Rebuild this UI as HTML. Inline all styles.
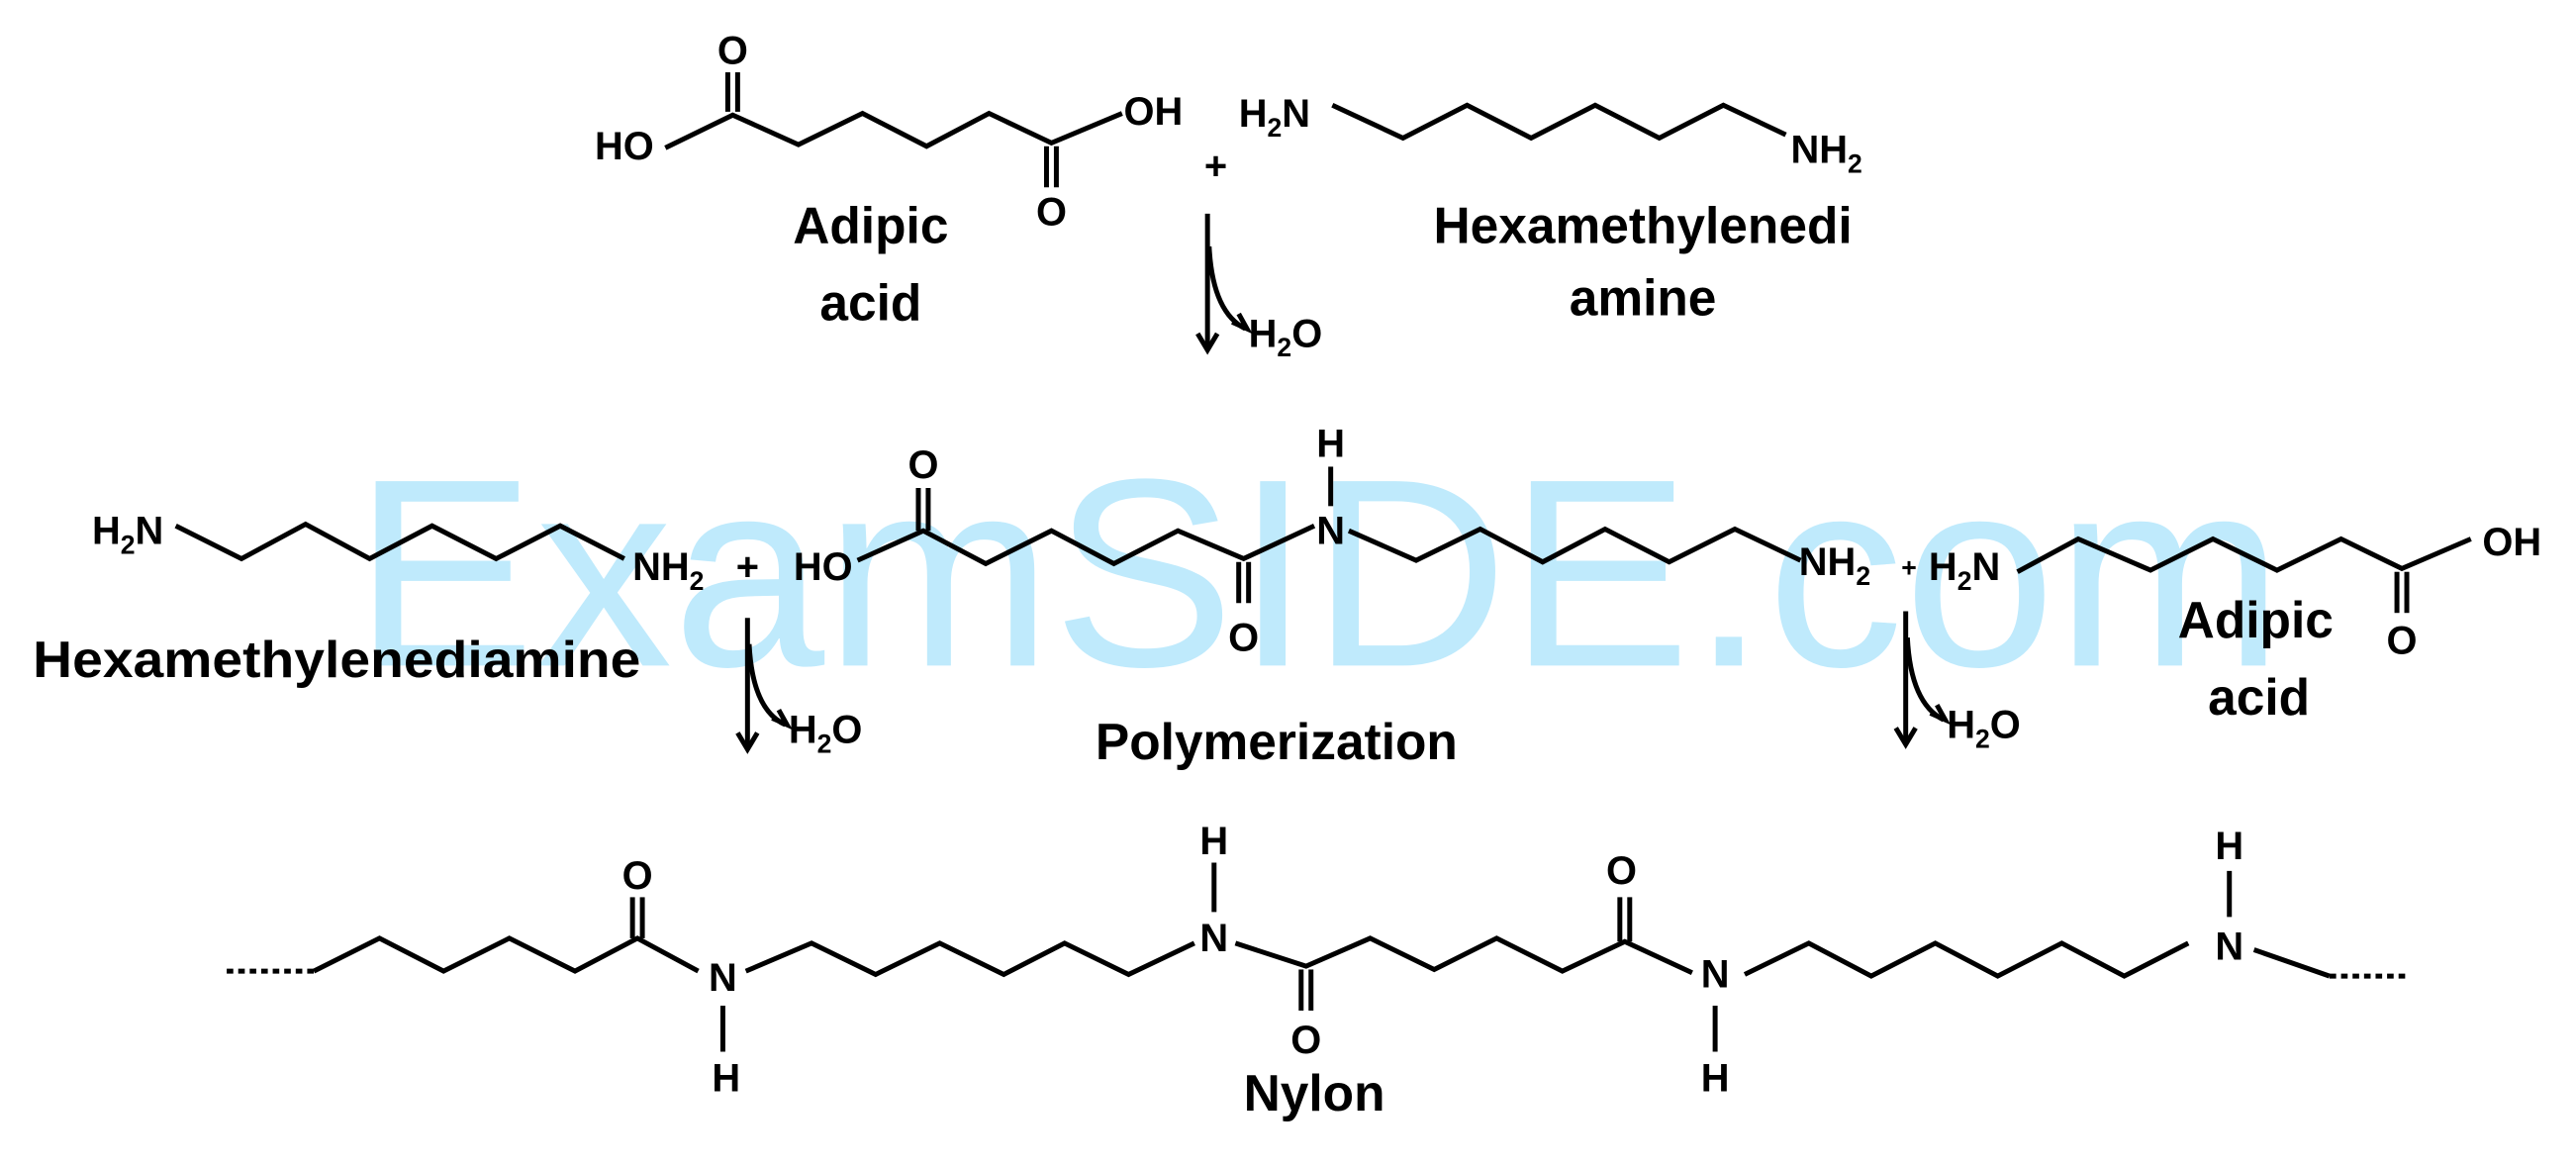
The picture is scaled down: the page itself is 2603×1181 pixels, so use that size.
<!DOCTYPE html>
<html><head><meta charset="utf-8"><style>
html,body{margin:0;padding:0;background:#fff;}
svg{display:block}
text{font-family:"Liberation Sans",sans-serif;font-weight:bold;fill:#000}
.a{font-size:24px}
.l{font-size:31px}
.s{font-size:16px}
</style></head><body>
<svg width="2603" height="1181" viewBox="0 0 1568 711.4" xmlns="http://www.w3.org/2000/svg">
<text x="215" y="405" font-size="163" style="fill:#bfeafc;font-weight:normal" textLength="1175" lengthAdjust="spacingAndGlyphs">ExamSIDE.com</text>
<g fill="none" stroke="#000" stroke-width="3" stroke-linejoin="miter">
<!-- top adipic acid -->
<polyline points="405,90 446,70 486,88 525,69 564,89 602,69 640,87 683,69"/>
<line x1="443" y1="68" x2="443" y2="44"/><line x1="449" y1="68" x2="449" y2="44"/>
<line x1="637" y1="89" x2="637" y2="114"/><line x1="643" y1="89" x2="643" y2="114"/>
<!-- top diamine -->
<polyline points="811,64 854,84 893,64 932,84 971,64 1010,84 1049,64 1087,82"/>
<!-- top arrow -->
<line x1="735" y1="130" x2="735" y2="212"/><polyline points="729,203 735,213 741,203"/>
<path d="M736,150 Q738,190 758,200"/><polyline points="750,196 759,200 754,191"/>
<!-- middle left diamine -->
<polyline points="107,320 147,340 186,319 225,340 263,320 302,340 341,320 380,340"/>
<!-- middle adipic-amide -->
<polyline points="522,341 562,323 600,343 640,323 678,343 717,323 757,340 800,320"/>
<line x1="559" y1="323" x2="559" y2="297"/><line x1="565" y1="323" x2="565" y2="297"/>
<line x1="754" y1="342" x2="754" y2="367"/><line x1="760" y1="342" x2="760" y2="367"/>
<line x1="810" y1="284" x2="810" y2="308"/>
<polyline points="821,323 862,341 901,322 939,342 977,322 1016,342 1056,322 1096,341"/>
<!-- middle right adipic -->
<polyline points="1228,348 1265,328 1309,347 1347,328 1386,347 1425,328 1462,346 1504,328"/>
<line x1="1459" y1="348" x2="1459" y2="373"/><line x1="1465" y1="348" x2="1465" y2="373"/>
<!-- middle arrows -->
<line x1="455" y1="376" x2="455" y2="455"/><polyline points="449,446 455,456 461,446"/>
<path d="M456,392 Q458,432 478,441"/><polyline points="470,437 479,441 474,432"/>
<line x1="1160" y1="372" x2="1160" y2="452"/><polyline points="1154,443 1160,453 1166,443"/>
<path d="M1161,388 Q1163,428 1183,438"/><polyline points="1175,434 1184,438 1179,429"/>
<!-- bottom nylon -->
<line x1="138" y1="591" x2="191" y2="591" stroke-dasharray="4,3"/>
<polyline points="191,591 231,571 270,591 310,571 350,591 388,571 425,591"/>
<line x1="385" y1="571" x2="385" y2="546"/><line x1="391" y1="571" x2="391" y2="546"/>
<line x1="440" y1="612" x2="440" y2="640"/>
<polyline points="454,591 494,574 533,593 572,574 611,593 648,574 687,593 727,574"/>
<line x1="739" y1="525" x2="739" y2="555"/>
<polyline points="752,574 795,588 834,571 873,590 911,571 951,591 989,573 1030,592"/>
<line x1="792" y1="590" x2="792" y2="615"/><line x1="798" y1="590" x2="798" y2="615"/>
<line x1="986" y1="573" x2="986" y2="546"/><line x1="992" y1="573" x2="992" y2="546"/>
<line x1="1044" y1="612" x2="1044" y2="640"/>
<polyline points="1062,593 1101,574 1139,594 1178,574 1216,594 1255,574 1293,594 1332,574"/>
<line x1="1357" y1="530" x2="1357" y2="558"/>
<line x1="1372" y1="578" x2="1418" y2="594"/>
<line x1="1418" y1="594" x2="1467" y2="594" stroke-dasharray="4,3"/>
</g>
<!-- top texts -->
<text class="a" x="380" y="97" text-anchor="middle">HO</text>
<text class="a" x="446" y="39" text-anchor="middle">O</text>
<text class="a" x="640" y="137" text-anchor="middle">O</text>
<text class="a" x="702" y="76" text-anchor="middle">OH</text>
<text class="a" x="740" y="109" text-anchor="middle">+</text>
<text class="a" x="754" y="77">H<tspan class="s" dy="6">2</tspan><tspan dy="-6">N</tspan></text>
<text class="a" x="1090" y="99">NH<tspan class="s" dy="6">2</tspan></text>
<text class="l" x="530" y="148" text-anchor="middle">Adipic</text>
<text class="l" x="530" y="195" text-anchor="middle">acid</text>
<text class="l" x="1000" y="148" text-anchor="middle">Hexamethylenedi</text>
<text class="l" x="1000" y="192" text-anchor="middle">amine</text>
<text class="a" x="760" y="211">H<tspan class="s" dy="6">2</tspan><tspan dy="-6">O</tspan></text>
<!-- middle texts -->
<text class="a" x="56" y="331">H<tspan class="s" dy="6">2</tspan><tspan dy="-6">N</tspan></text>
<text class="a" x="385" y="353">NH<tspan class="s" dy="6">2</tspan></text>
<text class="a" x="455" y="353" text-anchor="middle">+</text>
<text class="a" x="501" y="353" text-anchor="middle">HO</text>
<text class="a" x="562" y="291" text-anchor="middle">O</text>
<text class="a" x="757" y="396" text-anchor="middle">O</text>
<text class="a" x="810" y="331" text-anchor="middle">N</text>
<text class="a" x="810" y="278" text-anchor="middle">H</text>
<text class="a" x="1095" y="350">NH<tspan class="s" dy="6">2</tspan></text>
<text class="s" x="1162" y="351" text-anchor="middle">+</text>
<text class="a" x="1174" y="353">H<tspan class="s" dy="6">2</tspan><tspan dy="-6">N</tspan></text>
<text class="a" x="1529" y="338" text-anchor="middle">OH</text>
<text class="a" x="1462" y="398" text-anchor="middle">O</text>
<text class="l" x="1373" y="388" text-anchor="middle">Adipic</text>
<text class="l" x="1375" y="435" text-anchor="middle">acid</text>
<text class="l" x="205" y="412" text-anchor="middle" textLength="370" lengthAdjust="spacingAndGlyphs">Hexamethylenediamine</text>
<text class="a" x="480" y="452">H<tspan class="s" dy="6">2</tspan><tspan dy="-6">O</tspan></text>
<text class="a" x="1185" y="449">H<tspan class="s" dy="6">2</tspan><tspan dy="-6">O</tspan></text>
<text class="l" x="777" y="462" text-anchor="middle">Polymerization</text>
<!-- bottom texts -->
<text class="a" x="388" y="541" text-anchor="middle">O</text>
<text class="a" x="440" y="603" text-anchor="middle">N</text>
<text class="a" x="442" y="664" text-anchor="middle">H</text>
<text class="a" x="739" y="579" text-anchor="middle">N</text>
<text class="a" x="739" y="520" text-anchor="middle">H</text>
<text class="a" x="795" y="641" text-anchor="middle">O</text>
<text class="a" x="987" y="538" text-anchor="middle">O</text>
<text class="a" x="1044" y="601" text-anchor="middle">N</text>
<text class="a" x="1044" y="664" text-anchor="middle">H</text>
<text class="a" x="1357" y="584" text-anchor="middle">N</text>
<text class="a" x="1357" y="523" text-anchor="middle">H</text>
<text class="l" x="800" y="676" text-anchor="middle">Nylon</text>
</svg>
</body></html>
